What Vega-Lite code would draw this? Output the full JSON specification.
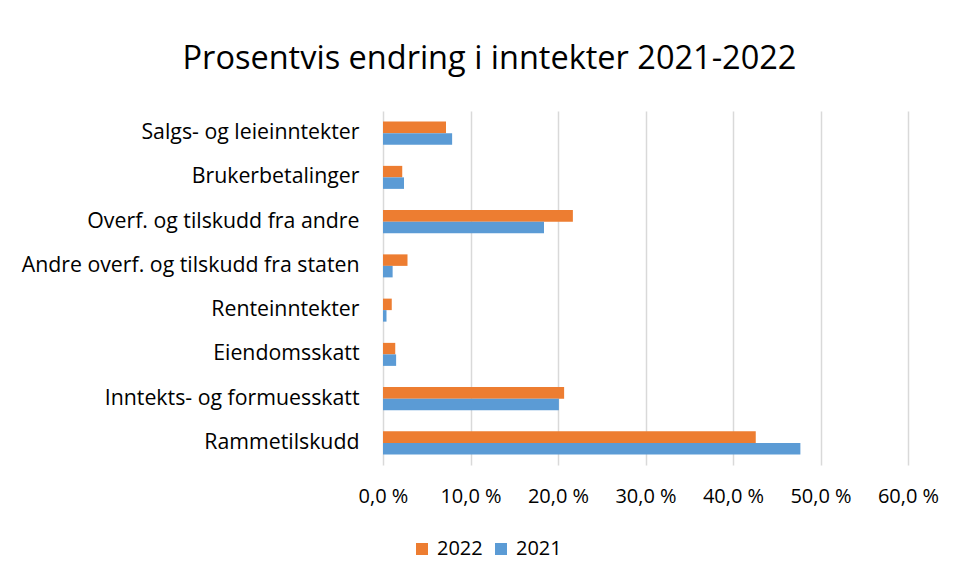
{
  "$schema": "https://vega.github.io/schema/vega-lite/v6.json",
  "autosize": {"type": "none"},
  "width": 525,
  "height": 354,
  "padding": {"left": 383, "top": 111, "right": 49, "bottom": 116},
  "background": "white",
  "title": {
    "text": "Prosentvis endring i inntekter 2021-2022",
    "font": "Open Sans",
    "fontSize": 32.5,
    "fontWeight": "normal",
    "color": "#000000",
    "anchor": "middle",
    "frame": "group",
    "dx": -156,
    "offset": 36
  },
  "data": {
    "values": [
      {"kategori": "Salgs- og leieinntekter", "aar": "2022", "verdi": 7.2},
      {"kategori": "Salgs- og leieinntekter", "aar": "2021", "verdi": 7.9},
      {"kategori": "Brukerbetalinger", "aar": "2022", "verdi": 2.2},
      {"kategori": "Brukerbetalinger", "aar": "2021", "verdi": 2.4},
      {"kategori": "Overf. og tilskudd fra andre", "aar": "2022", "verdi": 21.7},
      {"kategori": "Overf. og tilskudd fra andre", "aar": "2021", "verdi": 18.4},
      {"kategori": "Andre overf. og tilskudd fra staten", "aar": "2022", "verdi": 2.8},
      {"kategori": "Andre overf. og tilskudd fra staten", "aar": "2021", "verdi": 1.1},
      {"kategori": "Renteinntekter", "aar": "2022", "verdi": 1.0},
      {"kategori": "Renteinntekter", "aar": "2021", "verdi": 0.4},
      {"kategori": "Eiendomsskatt", "aar": "2022", "verdi": 1.4},
      {"kategori": "Eiendomsskatt", "aar": "2021", "verdi": 1.5},
      {"kategori": "Inntekts- og formuesskatt", "aar": "2022", "verdi": 20.7},
      {"kategori": "Inntekts- og formuesskatt", "aar": "2021", "verdi": 20.1},
      {"kategori": "Rammetilskudd", "aar": "2022", "verdi": 42.6},
      {"kategori": "Rammetilskudd", "aar": "2021", "verdi": 47.7}
    ]
  },
  "mark": {"type": "bar"},
  "encoding": {
    "y": {
      "field": "kategori",
      "type": "nominal",
      "sort": null,
      "scale": {"paddingInner": 0.48, "paddingOuter": 0.24},
      "axis": {
        "title": null,
        "ticks": false,
        "domain": false,
        "labelPadding": 24,
        "labelFont": "Open Sans",
        "labelFontSize": 21.3,
        "labelColor": "#000000",
        "labelLimit": 400
      }
    },
    "yOffset": {
      "field": "aar",
      "type": "nominal",
      "sort": ["2022", "2021"]
    },
    "x": {
      "field": "verdi",
      "type": "quantitative",
      "scale": {"domain": [0, 60], "nice": false},
      "axis": {
        "title": null,
        "values": [0, 10, 20, 30, 40, 50, 60],
        "labelExpr": "replace(format(datum.value, '.1f'), '.', ',') + ' %'",
        "ticks": false,
        "domain": false,
        "grid": true,
        "gridColor": "#d9d9d9",
        "gridWidth": 1.5,
        "labelPadding": 21,
        "labelFont": "Open Sans",
        "labelFontSize": 20,
        "labelColor": "#000000",
        "labelFlush": false
      }
    },
    "color": {
      "field": "aar",
      "type": "nominal",
      "scale": {"domain": ["2022", "2021"], "range": ["#ED7D31", "#5B9BD5"]},
      "legend": {
        "title": null,
        "orient": "none",
        "direction": "horizontal",
        "legendX": 29,
        "legendY": 428,
        "symbolType": "square",
        "symbolSize": 144,
        "symbolStrokeWidth": 0,
        "labelFont": "Open Sans",
        "labelFontSize": 20,
        "labelColor": "#000000",
        "labelOffset": 5,
        "columnPadding": 8
      }
    }
  },
  "config": {
    "view": {"stroke": null},
    "bar": {"stroke": null}
  }
}
